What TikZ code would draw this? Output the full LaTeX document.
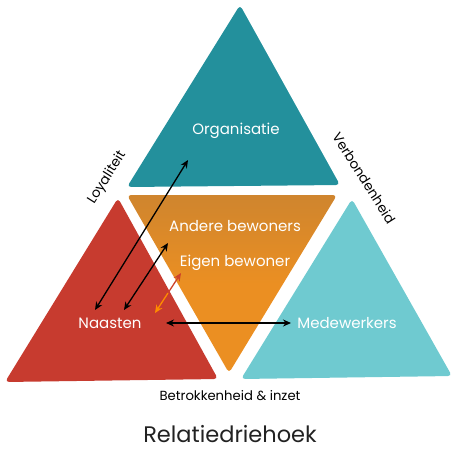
\documentclass[tikz,border=0pt]{standalone}
\usepackage{fontspec}
\setmainfont{Poppins}
\usetikzlibrary{arrows.meta}
\definecolor{tealtop}{HTML}{23909C}
\definecolor{orangemid}{HTML}{EB8F22}
\definecolor{orangetop}{HTML}{CF852E}
\definecolor{redleft}{HTML}{C73B2F}
\definecolor{tealright}{HTML}{6FCAD0}
\definecolor{titlegray}{HTML}{222222}
\tikzset{
  tri/.style={rounded corners=4pt},
  lab/.style={text=white, font=\fontsize{15}{17}\selectfont, inner sep=0pt},
  side/.style={text=black, font=\fontsize{13.5}{15}\selectfont, inner sep=0pt},
  dbl/.style={{Stealth[length=8pt,width=7pt]}-{Stealth[length=8pt,width=7pt]}, line width=1.3pt, black},
}
\begin{document}
\begin{tikzpicture}[x=1pt,y=-1pt]
\useasboundingbox (0,0) rectangle (452,448);
% triangles
\fill[tealtop,tri] (240,5) -- (340,185) -- (127,187) -- cycle;
\shade[tri, top color=orangetop, bottom color=orangemid, middle color=orangemid] (127,195) -- (337,195) -- (229,373) -- cycle;
\fill[redleft,tri] (118,198) -- (218,379) -- (5,382) -- cycle;
\fill[tealright,tri] (352,199) -- (452,376) -- (241,379) -- cycle;
% labels
\node[lab] (org) at (236,131) {Organisatie};
\node[lab] (andere) at (235,226) {Andere bewoners};
\node[lab] (eigen) at (235,263) {Eigen bewoner};
\node[lab] (naasten) at (110,323) {Naasten};
\node[lab] (mede) at (347,323) {Medewerkers};
\node[side, rotate=57.7] (loy) at (107,178) {Loyaliteit};
\node[side, rotate=-57.7] (verb) at (364,178) {Verbondenheid};
\node[side, font=\fontsize{13.2}{15}\selectfont] (betr) at (230,396) {Betrokkenheid \& inzet};
\node[text=titlegray, font=\fontsize{22.5}{26}\selectfont, inner sep=0pt, anchor=base] (title) at (230,442) {Relatiedriehoek};
% arrow end points
\coordinate (a1s) at (95,310);
\coordinate (a1e) at (188,160);
\coordinate (a2s) at (124,310);
\coordinate (a2e) at (168,243);
\coordinate (a3s) at (155,313);
\coordinate (a3m) at (168,293);
\coordinate (a3e) at (181,273);
\coordinate (a4s) at (166,323);
\coordinate (a4e) at (291,323);
\draw[dbl] (a1s) -- (a1e);
\draw[dbl] (a2s) -- (a2e);
\draw[dbl] (a4s) -- (a4e);
\draw[line width=1.3pt, orange!90!yellow, {Stealth[length=8pt,width=7pt]}-] (a3s) -- (a3m);
\draw[line width=1.3pt, redleft!90!orange, -{Stealth[length=8pt,width=7pt]}] (a3m) -- (a3e);
\end{tikzpicture}
\end{document}
